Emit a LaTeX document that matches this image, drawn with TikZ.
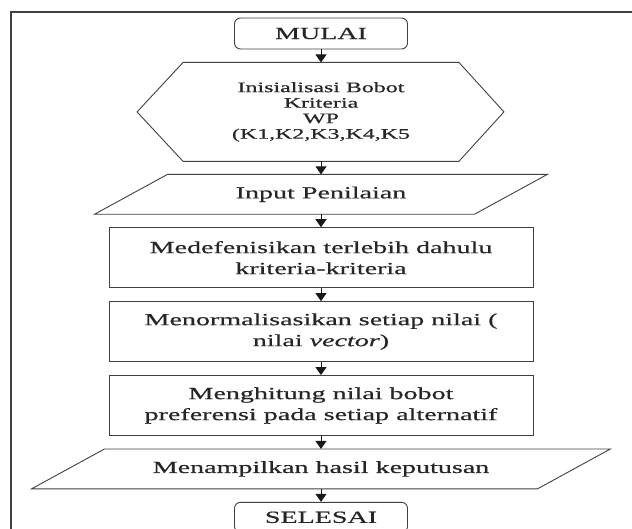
\documentclass[tikz,border=0pt]{standalone}
\usepackage{fontspec}
\setmainfont{Liberation Serif}[FakeStretch=1.65,FakeBold=0.6]
\usepackage{tikz}
\usetikzlibrary{arrows.meta,positioning}
\newcommand\drawpara[1]{\draw[black!75] ([xshift=36.5pt]#1.north west)--([xshift=36.5pt]#1.north east)
  --([xshift=-36.5pt]#1.south east)--([xshift=-36.5pt]#1.south west)--cycle;}

\begin{document}
\begin{tikzpicture}[x=1pt,y=1pt,font=\fontsize{17}{21}\selectfont,text=black!85,
  >={Triangle[width=11pt,length=8pt]},node distance=13pt,line width=0.9pt,
  b/.style={draw=black!75,align=center,minimum width=424pt,minimum height=60pt,inner sep=2pt},
  term/.style={b,rounded corners=6pt,minimum width=173pt,minimum height=31pt},
  io/.style={align=center,minimum height=39pt,inner sep=2pt},
  hexa/.style={align=center,minimum width=275pt,minimum height=98pt,
    font=\fontsize{14.5}{15.5}\selectfont}]
\useasboundingbox (0,0) rectangle (632,-529);
\draw[black!75,line width=1.3pt] (11,-529)--(11,-12)--(632,-12);
\node[term](mulai) at (321,-33.5){MULAI};
\node[hexa,below=of mulai](hex){Inisialisasi Bobot\\Kriteria\\WP\\(K1,K2,K3,K4,K5};
\draw[black!75] (hex.north west)--(hex.north east)--([xshift=45pt]hex.east)
  --(hex.south east)--(hex.south west)--([xshift=-46pt]hex.west)--cycle;
\node[io,below=of hex,minimum width=379pt](inp){Input Penilaian};
\drawpara{inp}
\node[b,below=of inp](def){Medefenisikan terlebih dahulu\\kriteria-kriteria};
\node[b,below=of def](norm){Menormalisasikan setiap nilai (\\nilai \textit{vector})};
\node[b,below=of norm](hit){Menghitung nilai bobot\\preferensi pada setiap alternatif};
\node[io,below=of hit,minimum width=505pt](out){Menampilkan hasil keputusan};
\drawpara{out}
\node[term,below=of out,minimum height=30pt](selesai){SELESAI};
\foreach \x/\y in {mulai/hex,hex/inp,inp/def,def/norm,norm/hit,hit/out,out/selesai}
  \draw[->,black!90] (\x)--(\y);
\end{tikzpicture}
\end{document}
